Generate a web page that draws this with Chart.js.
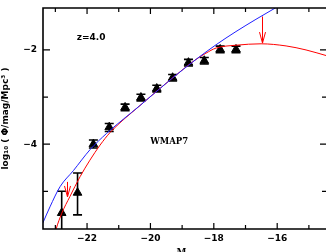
<!DOCTYPE html>
<html><head><meta charset="utf-8">
<script src="https://cdn.jsdelivr.net/npm/chart.js@4"></script>
<style>html,body{margin:0;padding:0;overflow:hidden;background:#fff;width:326px;height:252px}canvas{display:block}</style>
</head><body><canvas id="c" width="326" height="252"></canvas>
<script>
// observed luminosity function (z = 4.0)
const magBins = [-22.8,-22.3,-21.8,-21.3,-20.8,-20.3,-19.8,-19.3,-18.8,-18.3,-17.8,-17.3];
const logPhi  = [-5.46,-5.03,-4.00,-3.64,-3.22,-3.01,-2.82,-2.59,-2.27,-2.23,-1.99,-1.99];
const errHigh = [-5.00,-4.61,-3.91,-3.56,-3.15,-2.94,-2.75,-2.52,-2.20,-2.16,-1.92,-1.92];
const errLow  = [-6.30,-5.50,-4.08,-3.73,-3.29,-3.08,-2.89,-2.66,-2.34,-2.30,-2.06,-2.06];
// model curves
const blueMag = [-23.40,-23.17,-22.85,-22.43,-21.91,-21.38,-20.33,-19.33,-18.56,-17.93,-17.30,-16.67,-16.01,-15.80];
const bluePhi = [-5.68,-5.33,-4.90,-4.56,-4.12,-3.77,-3.18,-2.61,-2.20,-1.89,-1.61,-1.35,-1.09,-1.01];
const redMag  = [-23.05,-22.98,-22.80,-22.54,-22.22,-21.91,-21.59,-21.27,-20.33,-19.33,-18.56,-18.25,-17.93,-17.30,-16.51,-15.72,-15.09,-14.40];
const redPhi  = [-6.00,-5.81,-5.47,-5.11,-4.69,-4.34,-4.02,-3.75,-3.18,-2.61,-2.20,-2.07,-1.96,-1.90,-1.87,-1.915,-2.00,-2.13];
// arrows (from unobscured to obscured)
const arrowMag  = [-16.49,-22.64];
const arrowFrom = [-1.29,-4.80];
const arrowTo   = [-1.855,-5.12];
// axes
const xTickVals  = [-22,-20,-18,-16];
const yTickVals  = [-4,-2];
const xMinorVals = [-23,-22,-21,-20,-19,-18,-17,-16,-15];
const yMinorVals = [-5,-4,-3,-2];
const labels = {z:'z=4.0', model:'WMAP7'};
const labelPos = {z:[-21.87,-1.745], model:[-19.41,-3.95]};

const pts = (xs, ys) => xs.map((x,i)=>({x:x, y:ys[i]}));

const extras = {
  id:'extras',
  beforeDatasetsDraw(chart){
    const {ctx, chartArea:a, scales:{x, y}} = chart;
    ctx.save();
    ctx.beginPath(); ctx.rect(a.left, a.top, a.right-a.left, a.bottom-a.top); ctx.clip();
    ctx.strokeStyle = '#000'; ctx.lineWidth = 1.6;
    magBins.forEach((m,i)=>{
      const px = x.getPixelForValue(m);
      const y1 = y.getPixelForValue(errHigh[i]), y2 = y.getPixelForValue(errLow[i]);
      ctx.beginPath();
      ctx.moveTo(px, y1); ctx.lineTo(px, y2);
      ctx.moveTo(px-4.5, y1); ctx.lineTo(px+4.5, y1);
      ctx.moveTo(px-4.5, y2); ctx.lineTo(px+4.5, y2);
      ctx.stroke();
    });
    ctx.restore();
  },
  afterDatasetsDraw(chart){
    const {ctx, chartArea:a, scales:{x, y}} = chart;
    ctx.save();
    // arrows
    ctx.strokeStyle = '#ff0000'; ctx.lineWidth = 1;
    arrowMag.forEach((m,i)=>{
      const px = Math.round(x.getPixelForValue(m))+0.5;
      const y1 = y.getPixelForValue(arrowFrom[i]), y2 = y.getPixelForValue(arrowTo[i]);
      ctx.beginPath();
      ctx.moveTo(px, y1); ctx.lineTo(px, y2);
      ctx.moveTo(px-3, y2-11); ctx.lineTo(px, y2); ctx.lineTo(px+3, y2-11);
      ctx.stroke();
    });
    // frame (right side lies just beyond the picture)
    ctx.strokeStyle = '#000'; ctx.lineWidth = 1.6;
    ctx.beginPath();
    ctx.moveTo(a.right+2, a.top); ctx.lineTo(a.left, a.top); ctx.lineTo(a.left, a.bottom); ctx.lineTo(a.right+2, a.bottom);
    ctx.stroke();
    ctx.lineWidth = 1.2;
    ctx.beginPath();
    xMinorVals.forEach(v=>{
      const px = x.getPixelForValue(v);
      const len = (v % 2 === 0) ? 6 : 4;
      ctx.moveTo(px, a.bottom); ctx.lineTo(px, a.bottom-len);
      ctx.moveTo(px, a.top); ctx.lineTo(px, a.top+len);
    });
    yMinorVals.forEach(v=>{
      const py = y.getPixelForValue(v);
      const len = (v % 2 === 0) ? 7 : 5;
      ctx.moveTo(a.left, py); ctx.lineTo(a.left+len, py);
      ctx.moveTo(a.right+1, py); ctx.lineTo(a.right+1-len, py);
    });
    ctx.stroke();
    // text labels
    ctx.fillStyle = '#000';
    ctx.textAlign = 'center'; ctx.textBaseline = 'middle';
    ctx.font = 'bold 9px "DejaVu Sans"';
    ctx.fillText(labels.z, x.getPixelForValue(labelPos.z[0]), y.getPixelForValue(labelPos.z[1]));
    ctx.font = 'bold 8.5px "DejaVu Serif"';
    ctx.fillText(labels.model, x.getPixelForValue(labelPos.model[0]), y.getPixelForValue(labelPos.model[1]));
    // x title M_AB
    const cx = (a.left + a.right)/2 - 4;
    ctx.textAlign = 'left'; ctx.textBaseline = 'alphabetic';
    ctx.font = 'bold 9px "DejaVu Serif"';
    ctx.fillText('M', cx-4, 255);
    ctx.font = 'bold 6px "DejaVu Serif"';
    ctx.fillText('AB', cx+5, 257);
    ctx.restore();
  }
};

new Chart(document.getElementById('c'), {
  type:'scatter',
  data:{datasets:[
    {type:'line', data:pts(blueMag, bluePhi), borderColor:'#2020ff', borderWidth:1, pointRadius:0, cubicInterpolationMode:'monotone', fill:false},
    {type:'line', data:pts(redMag, redPhi), borderColor:'#ff0000', borderWidth:1, pointRadius:0, cubicInterpolationMode:'monotone', fill:false},
    {data:pts(magBins, logPhi), pointStyle:'triangle', pointRadius:5, backgroundColor:'#000', borderColor:'#000', borderWidth:1}
  ]},
  options:{
    responsive:false, animation:false, devicePixelRatio:1,
    layout:{autoPadding:false, padding:{top:8, right:0, left:0, bottom:0}},
    plugins:{legend:{display:false}, tooltip:{enabled:false}},
    scales:{
      x:{type:'linear', min:-23.39, max:-14.46,
        afterBuildTicks(s){ s.ticks = xTickVals.map(v=>({value:v})); },
        afterFit(s){ s.height = 23; s.paddingLeft = 0; s.paddingRight = 0; s.paddingTop = 0; s.paddingBottom = 0; },
        grid:{display:false, drawTicks:false}, border:{display:false},
        ticks:{padding:4, color:'#000', font:{family:'DejaVu Sans', size:9, weight:'bold'}, maxRotation:0, autoSkip:false,
          callback:v=>'\u2212'+Math.abs(v)}},
      y:{type:'linear', min:-5.8, max:-1.11,
        afterBuildTicks(s){ s.ticks = yTickVals.map(v=>({value:v})); },
        afterFit(s){ s.width = 43; s.paddingLeft = 0; s.paddingRight = 0; s.paddingTop = 0; s.paddingBottom = 0; },
        grid:{display:false, drawTicks:false}, border:{display:false},
        title:{display:true, text:'log\u2081\u2080 ( \u03A6/mag/Mpc\u00B3 )', color:'#000', padding:{top:0,bottom:2}, font:{family:'DejaVu Sans', size:9, weight:'bold'}},
        ticks:{padding:6, color:'#000', font:{family:'DejaVu Sans', size:9, weight:'bold'}, autoSkip:false,
          callback:v=>'\u2212'+Math.abs(v)}}
    }
  },
  plugins:[extras]
});
</script>
</body></html>
